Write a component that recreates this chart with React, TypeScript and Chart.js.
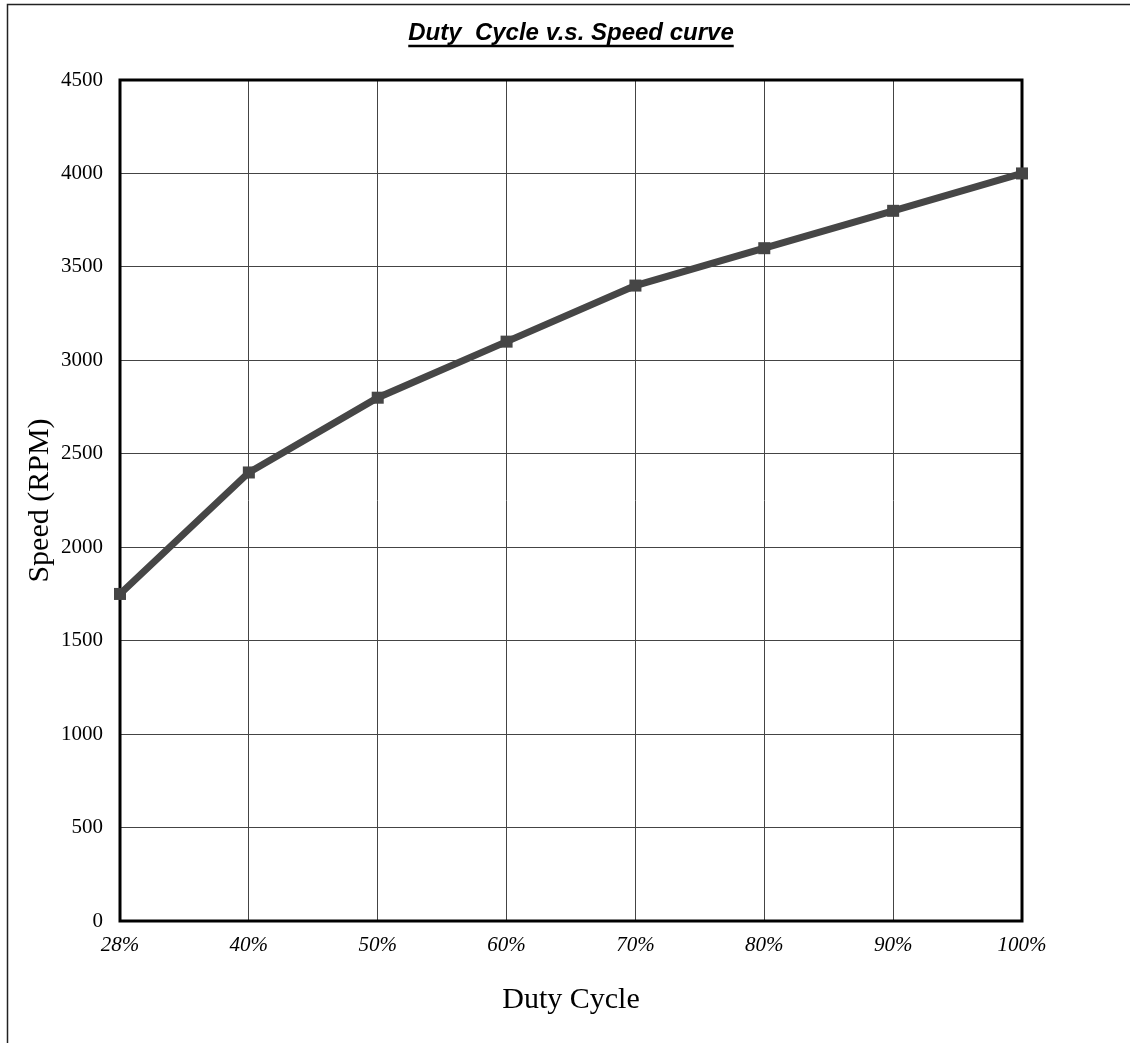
import React, { useEffect, useRef } from "react";
import { Chart, registerables } from "chart.js";

Chart.register(...registerables);

const categories = ["28%", "40%", "50%", "60%", "70%", "80%", "90%", "100%"];
const speedRpm = [1750, 2400, 2800, 3100, 3400, 3600, 3800, 4000];
const chartTitle = "Duty  Cycle v.s. Speed curve";
const xTitle = "Duty Cycle";
const yTitle = "Speed (RPM)";

const W = 1130;
const H = 1043;

const decorPlugin = {
  id: "decor",
  afterDraw(chart: any) {
    const { ctx, chartArea } = chart;
    ctx.save();
    // outer border (top and left)
    ctx.strokeStyle = "#222";
    ctx.lineWidth = 1.5;
    ctx.beginPath();
    ctx.moveTo(W, 4.5);
    ctx.lineTo(7.5, 4.5);
    ctx.lineTo(7.5, H);
    ctx.stroke();
    // title with underline
    const cx = (chartArea.left + chartArea.right) / 2;
    ctx.fillStyle = "#000";
    ctx.font = 'italic bold 24px "Liberation Sans", Arial, sans-serif';
    ctx.textAlign = "center";
    ctx.textBaseline = "alphabetic";
    ctx.fillText(chartTitle, cx, 40);
    const tw = ctx.measureText(chartTitle).width;
    ctx.lineWidth = 2.5;
    ctx.strokeStyle = "#000";
    ctx.beginPath();
    ctx.moveTo(cx - tw / 2, 46);
    ctx.lineTo(cx + tw / 2, 46);
    ctx.stroke();
    ctx.restore();
  },
  beforeDatasetsDraw(chart: any) {
    const { ctx, chartArea } = chart;
    ctx.save();
    ctx.strokeStyle = "#000";
    ctx.lineWidth = 3;
    ctx.strokeRect(chartArea.left, chartArea.top, chartArea.right - chartArea.left, chartArea.bottom - chartArea.top);
    ctx.restore();
  },
};

export default function App() {
  const ref = useRef<HTMLCanvasElement | null>(null);
  useEffect(() => {
    if (!ref.current) return;
    const chart = new Chart(ref.current, {
      type: "line",
      data: {
        labels: categories,
        datasets: [
          {
            data: speedRpm,
            borderColor: "#464646",
            backgroundColor: "#464646",
            borderWidth: 7,
            pointStyle: "rect",
            pointRadius: 8.5,
            pointBorderWidth: 0,
            pointBackgroundColor: "#464646",
            tension: 0,
            clip: false,
          },
        ],
      },
      options: {
        animation: false,
        responsive: false,
        devicePixelRatio: 1,
        layout: { padding: { left: 0, top: 80, right: W - 1022, bottom: 0 } },
        plugins: {
          legend: { display: false },
          title: { display: false },
          tooltip: { enabled: false },
        },
        scales: {
          x: {
            type: "category",
            offset: false,
            grid: { color: "#444", lineWidth: 1, drawTicks: false },
            border: { display: false },
            ticks: {
              color: "#000",
              padding: 12,
              maxRotation: 0,
              autoSkip: false,
              font: { family: '"Liberation Serif", "Times New Roman", serif', size: 21, style: "italic" },
            },
            title: {
              display: true,
              text: xTitle,
              color: "#000",
              padding: { top: 0, bottom: 25 },
              font: { family: '"Liberation Serif", "Times New Roman", serif', size: 30 },
            },
            afterFit(scale: any) {
              scale.height = H - 921;
            },
          },
          y: {
            min: 0,
            max: 4500,
            grid: { color: "#444", lineWidth: 1, drawTicks: false },
            border: { display: false },
            ticks: {
              stepSize: 500,
              color: "#000",
              padding: 17,
              callback: (v: any) => String(v),
              font: { family: '"Liberation Serif", "Times New Roman", serif', size: 21 },
            },
            title: {
              display: true,
              text: yTitle,
              color: "#000",
              padding: { top: 22, bottom: 0 },
              font: { family: '"Liberation Serif", "Times New Roman", serif', size: 30 },
            },
            afterFit(scale: any) {
              scale.width = 120;
            },
          },
        },
      },
      plugins: [decorPlugin],
    });
    return () => chart.destroy();
  }, []);
  return (
    <div style={{ position: "absolute", left: 0, top: 0, width: W, height: H, background: "#fff" }}>
      <canvas ref={ref} width={W} height={H} style={{ display: "block", width: W, height: H }} />
    </div>
  );
}
